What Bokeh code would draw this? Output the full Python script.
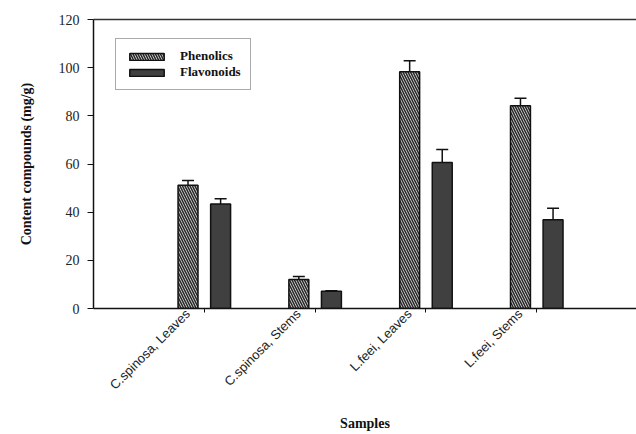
from bokeh.plotting import figure
from bokeh.models import (ColumnDataSource, FixedTicker, Whisker, TeeHead, Legend,
                          LegendItem, LinearAxis, Range1d)
from bokeh.embed import file_html
from bokeh.resources import INLINE

categories = ["C.spinosa, Leaves", "C.spinosa, Stems", "L.feei, Leaves", "L.feei, Stems"]
phenolics = [51.2, 12.0, 98.3, 84.2]
phenolics_err = [2.0, 1.3, 4.6, 3.1]
flavonoids = [43.4, 7.2, 60.6, 36.8]
flavonoids_err = [2.2, 0.2, 5.4, 4.8]
y_ticks = [0, 20, 40, 60, 80, 100, 120]

pos = [i + 1 for i in range(len(categories))]
off = 0.147
bw = 0.18
label_shift = 0.15

src_p = ColumnDataSource(dict(
    x=[p - off for p in pos], top=phenolics,
    upper=[v + e for v, e in zip(phenolics, phenolics_err)]))
src_f = ColumnDataSource(dict(
    x=[p + off for p in pos], top=flavonoids,
    upper=[v + e for v, e in zip(flavonoids, flavonoids_err)]))

p = figure(width=636, height=434, output_backend="svg", toolbar_location=None,
           x_range=Range1d(0, 4.9), y_range=Range1d(0, 120),
           min_border_left=93, min_border_right=0, min_border_top=19,
           min_border_bottom=126)
p.grid.visible = False
p.outline_line_color = None
p.background_fill_color = "white"
p.border_fill_color = "white"

rp = p.vbar(x="x", top="top", width=bw, source=src_p, fill_color="#e4e4e4",
            hatch_pattern="left_diagonal_line", hatch_color="#2a2a2a",
            hatch_weight=1.6, hatch_scale=5, line_color="#111111", line_width=1.5)
rf = p.vbar(x="x", top="top", width=bw, source=src_f, fill_color="#404040",
            line_color="#111111", line_width=1.5)

for s in (src_p, src_f):
    w = Whisker(source=s, base="x", lower="top", upper="upper", dimension="height",
                line_color="#111111", line_width=1.5,
                upper_head=TeeHead(size=12, line_color="#111111", line_width=1.5),
                lower_head=None)
    p.add_layout(w)

# x axis: line + tick marks only
xa = p.xaxis[0]
xa.ticker = FixedTicker(ticks=pos)
xa.major_label_overrides = {p_: "" for p_ in pos}
xa.major_label_text_font_size = "0px"
xa.major_label_standoff = 0
xa.minor_tick_line_color = None
xa.major_tick_out = 4
xa.major_tick_in = 0
xa.axis_line_width = 1.5
xa.axis_line_color = "#111111"
xa.major_tick_line_color = "#111111"

# second below axis carrying the rotated category labels and the title
lab_ticks = [p_ - label_shift for p_ in pos]
xl = LinearAxis(ticker=FixedTicker(ticks=lab_ticks),
                major_label_overrides={t: c for t, c in zip(lab_ticks, categories)},
                major_label_orientation=0.785398,
                major_label_text_font="Liberation Sans",
                major_label_text_font_size="13px",
                major_label_text_color="#222222",
                major_label_standoff=-1, major_tick_out=0, major_tick_in=0,
                minor_tick_out=0, minor_tick_in=0,
                axis_line_color=None, major_tick_line_color=None,
                minor_tick_line_color=None,
                axis_label="Samples", axis_label_text_font="Liberation Serif",
                axis_label_text_font_style="bold", axis_label_text_font_size="14px",
                axis_label_text_color="#111111", axis_label_standoff=15)
p.add_layout(xl, "below")

# y axis
ya = p.yaxis[0]
ya.ticker = FixedTicker(ticks=y_ticks)
ya.minor_tick_line_color = None
ya.major_tick_out = 6
ya.major_tick_in = 0
ya.axis_line_width = 1.5
ya.axis_line_color = "#111111"
ya.major_tick_line_color = "#111111"
ya.major_label_text_font = "Liberation Serif"
ya.major_label_text_font_size = "14px"
ya.major_label_text_color = "#222222"
ya.major_label_standoff = 8
ya.axis_label = "Content compounds (mg/g)"
ya.axis_label_text_font = "Liberation Serif"
ya.axis_label_text_font_style = "bold"
ya.axis_label_text_font_size = "14px"
ya.axis_label_text_color = "#111111"
ya.axis_label_standoff = 22

# top border line
top = LinearAxis(ticker=FixedTicker(ticks=[]), major_tick_line_color=None,
                 minor_tick_line_color=None, major_label_text_font_size="0px",
                 axis_line_width=1.5, axis_line_color="#333333")
p.add_layout(top, "above")

legend = Legend(items=[LegendItem(label="Phenolics", renderers=[rp]),
                       LegendItem(label="Flavonoids", renderers=[rf])],
                location=(22, 218), glyph_width=43, glyph_height=9,
                label_text_font="Liberation Serif", label_text_font_style="bold",
                label_text_font_size="13px", label_text_color="#111111",
                label_standoff=12, label_height=9, spacing=0, padding=9,
                margin=0, border_line_color="#555555", border_line_width=1.2,
                background_fill_color="white", background_fill_alpha=1)
p.add_layout(legend, "center")

open("out.html", "w").write(file_html(p, INLINE))
